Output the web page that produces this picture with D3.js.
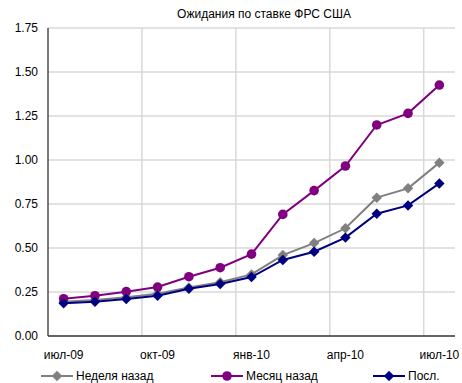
<!DOCTYPE html>
<html>
<head>
    <meta charset="utf-8">
    <style>
        body { margin: 0; background: #fff; }
        svg { display: block; font-family: 'Liberation Sans', Arial, sans-serif; }
    </style>
</head>
<body>
    <svg width="462" height="383"></svg>

<script src="https://d3js.org/d3.v7.min.js"></script>
<script>
    // months on the axis, Jul-09 .. Jul-10
    let months = ["июл-09", "авг-09", "сен-09", "окт-09", "ноя-09", "дек-09",
        "янв-10", "фев-10", "мар-10", "апр-10", "май-10", "июн-10", "июл-10"]
    let tickLabels = ["июл-09", "окт-09", "янв-10", "апр-10", "июл-10"]
    let yTicks = [0, 0.25, 0.5, 0.75, 1, 1.25, 1.5, 1.75]

    let weekAgo = [0.195, 0.205, 0.22, 0.24, 0.275, 0.305, 0.35, 0.46, 0.528, 0.612, 0.786, 0.839, 0.985]
    let monthAgo = [0.212, 0.229, 0.252, 0.278, 0.337, 0.388, 0.465, 0.691, 0.826, 0.966, 1.199, 1.265, 1.426]
    let latest = [0.186, 0.195, 0.21, 0.229, 0.269, 0.295, 0.335, 0.432, 0.479, 0.559, 0.695, 0.742, 0.867]

    let series = [
        { name: "Неделя назад", values: weekAgo, color: "#808080", marker: "diamond" },
        { name: "Месяц назад", values: monthAgo, color: "#800080", marker: "circle" },
        { name: "Посл.", values: latest, color: "#000080", marker: "diamond" }
    ]

    let svg = d3.select("svg")
    let plotLeft = 48, plotRight = 455, plotTop = 28, plotBottom = 336

    let x = d3.scaleBand()
        .domain(months)
        .range([plotLeft, plotRight])
        .padding(0)

    let y = d3.scaleLinear()
        .domain([0, 1.75])
        .range([plotBottom, plotTop])

    // horizontal grid
    svg.append("g")
        .selectAll("line")
        .data(yTicks.filter(d => d > 0))
        .join("line")
        .attr("x1", plotLeft)
        .attr("x2", plotRight)
        .attr("y1", d => y(d))
        .attr("y2", d => y(d))
        .style("stroke", "#d9d9d9")
        .style("stroke-width", 1.5)

    // vertical grid at quarter starts
    svg.append("g")
        .selectAll("line")
        .data(tickLabels.slice(1))
        .join("line")
        .attr("x1", d => x(d))
        .attr("x2", d => x(d))
        .attr("y1", plotTop)
        .attr("y2", plotBottom)
        .style("stroke", "#d9d9d9")
        .style("stroke-width", 1.5)

    // axes lines
    svg.append("line")
        .attr("x1", plotLeft).attr("x2", plotLeft)
        .attr("y1", plotTop).attr("y2", plotBottom)
        .style("stroke", "#333").style("stroke-width", 1.3)
    svg.append("line")
        .attr("x1", plotLeft).attr("x2", plotRight)
        .attr("y1", plotBottom).attr("y2", plotBottom)
        .style("stroke", "#333").style("stroke-width", 1.3)

    // y labels
    svg.append("g")
        .selectAll("text")
        .data(yTicks)
        .join("text")
        .attr("x", 38)
        .attr("y", d => y(d) + 4)
        .attr("text-anchor", "end")
        .style("font-size", "12px")
        .style("fill", "#000")
        .text(d => d3.format(".2f")(d))

    // x labels
    svg.append("g")
        .selectAll("text")
        .data(tickLabels)
        .join("text")
        .attr("x", d => x(d) + x.bandwidth() / 2)
        .attr("y", 359)
        .attr("text-anchor", "middle")
        .style("font-size", "12px")
        .style("fill", "#000")
        .text(d => d)

    // title
    svg.append("text")
        .attr("x", 264)
        .attr("y", 18)
        .attr("text-anchor", "middle")
        .style("font-size", "12px")
        .text("Ожидания по ставке ФРС США")

    let diamond = d3.symbol().type(d3.symbolDiamond2).size(70)

    function drawMarker(g, s, cx, cy) {
        if (s.marker == "circle") {
            g.append("circle")
                .attr("cx", cx).attr("cy", cy).attr("r", 4.8)
                .style("fill", s.color)
        } else {
            g.append("path")
                .attr("d", diamond())
                .attr("transform", "translate(" + cx + "," + cy + ")")
                .style("fill", s.color)
        }
    }

    let line = d3.line()
        .x((d, i) => x(months[i]) + x.bandwidth() / 2)
        .y(d => y(d))

    series.forEach(s => {
        let g = svg.append("g")
        g.append("path")
            .attr("d", line(s.values))
            .style("fill", "none")
            .style("stroke", s.color)
            .style("stroke-width", 2)
        s.values.forEach((v, i) => {
            drawMarker(g, s, x(months[i]) + x.bandwidth() / 2, y(v))
        })
    })

    // legend
    let legendX = [41, 211, 373]
    series.forEach((s, i) => {
        let g = svg.append("g")
        let lx = legendX[i]
        g.append("line")
            .attr("x1", lx).attr("x2", lx + 32)
            .attr("y1", 376).attr("y2", 376)
            .style("stroke", s.color)
            .style("stroke-width", 2)
        drawMarker(g, s, lx + 16, 376)
        g.append("text")
            .attr("x", lx + 35)
            .attr("y", 380)
            .style("font-size", "12px")
            .text(s.name)
    })
</script>
</body>
</html>
